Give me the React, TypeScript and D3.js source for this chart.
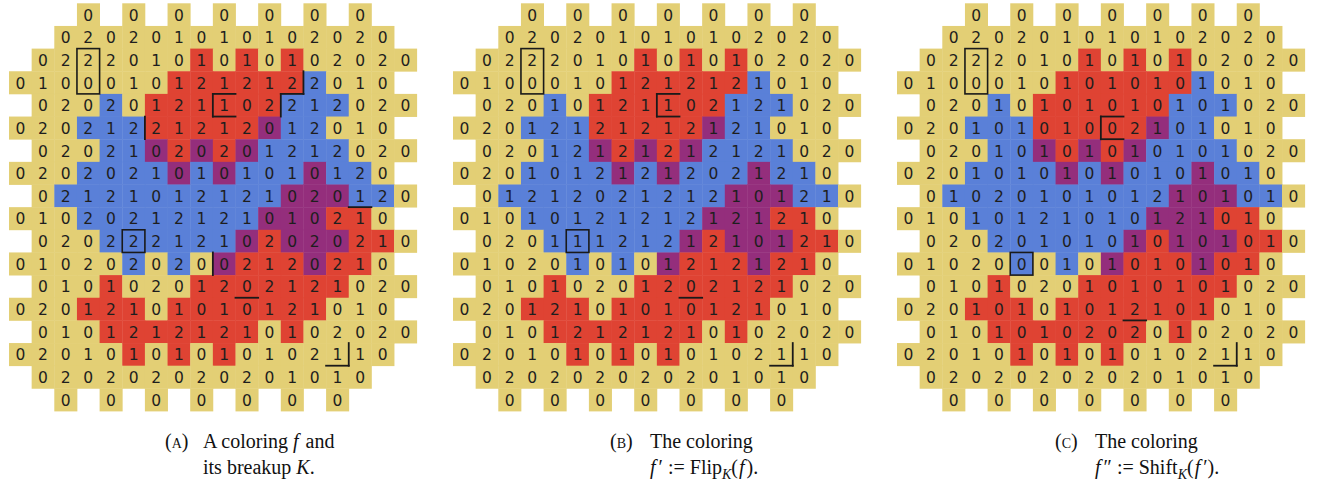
import React from "react";
import * as d3 from "d3";

// first column of each row (rows 0 and 17 only use every other cell)
const rowStart = [3, 2, 1, 0, 1, 0, 1, 0, 1, 0, 1, 0, 1, 0, 1, 0, 1, 2];

// cell colours, same in all three panels (Y yellow, R red, B blue, P purple)
const colorRows = [
  "Y Y Y Y Y Y Y",
  "YYYYYYYYYYYYYYY",
  "YYYYYYYRYRYRYYYYY",
  "YYYYYYYRRRRRRBYYY",
  "YYYBYRRRRRRBBBYYY",
  "YYYBBBRRRRRPBBYYY",
  "YYYBBPRPRPBBBBYYY",
  "YYYBBBBPBPBBBPBBY",
  "YBBBBBBBBBBPPPBBY",
  "YYYBBBBBBBBPPPRRY",
  "YYYBBBBBBPRPPPRRY",
  "YYYYYBYBYPRRRPRRY",
  "YYYRYYYRRRRRRRYYY",
  "YYYRRRYRRRRRRRYYY",
  "YYYRRRRRRRYRYYYYY",
  "YYYYYRYRYRYYYYYYY",
  "YYYYYYYYYYYYYYY",
  "Y Y Y Y Y Y Y",
];

const valuesA = [
  "0 0 0 0 0 0 0",
  "020201010102020",
  "02220101010102020",
  "01000101212122010",
  "02020121102212020",
  "02021221212012010",
  "02021020201212020",
  "02020210101010120",
  "02121012121020120",
  "01020212121010210",
  "02022212102020210",
  "01020202002120210",
  "01010201202121020",
  "02012101010121010",
  "01012121210102020",
  "02010101010102110",
  "020202020201010",
  "0 0 0 0 0 0 0",
];

const valuesB = [
  "0 0 0 0 0 0 0",
  "020201010102020",
  "02220101010102020",
  "01000101212121010",
  "02010121102121020",
  "02012121212121010",
  "02012121212121020",
  "02010121212021210",
  "01212021212101210",
  "01010121212121210",
  "02011121212101210",
  "01020101012121210",
  "01010201202121020",
  "02012101010121010",
  "01012121210102020",
  "02010101010102110",
  "020202020201010",
  "0 0 0 0 0 0 0",
];

const valuesC = [
  "0 0 0 0 0 0 0",
  "020201010102020",
  "02220101010102020",
  "01000101010101010",
  "02010101010101020",
  "02010101002101010",
  "02010101010101020",
  "02010101010101010",
  "01020101012101010",
  "01010121010121010",
  "02020101010101010",
  "01020001010101010",
  "01010201010101020",
  "02010101012101010",
  "01010102020102020",
  "02010101010102110",
  "020202020201010",
  "0 0 0 0 0 0 0",
];

const boxesA = [{ r: 2, c: 3, h: 2, w: 1 }, { r: 10, c: 5, h: 1, w: 1 }];
const boxesB = [{ r: 2, c: 3, h: 2, w: 1 }, { r: 10, c: 5, h: 1, w: 1 }];
const boxesC = [{ r: 2, c: 3, h: 2, w: 1 }, { r: 11, c: 5, h: 1, w: 1 }];

// single cell edges: [row, col, side]
const edgesA: [number, number, string][] = [
  [4, 9, "t"], [4, 9, "l"], [4, 9, "b"],
  [3, 12, "r"], [3, 12, "b"], [4, 12, "l"],
  [5, 6, "l"], [8, 15, "b"], [11, 9, "l"], [12, 10, "b"],
  [15, 14, "b"], [15, 14, "r"],
];
const edgesB: [number, number, string][] = [
  [4, 9, "t"], [4, 9, "l"], [4, 9, "b"],
  [12, 10, "b"], [15, 14, "b"], [15, 14, "r"],
];
const edgesC: [number, number, string][] = [
  [5, 9, "t"], [5, 9, "l"], [5, 9, "b"],
  [13, 10, "b"], [15, 14, "b"], [15, 14, "r"],
];

const palette: Record<string, string> = {
  Y: "#e3cf75",
  R: "#df4333",
  B: "#5a80d8",
  P: "#942e7c",
};

const CELL = 22.65;
const TOP = 3.3;
const panelX = [9, 453, 897];

const Panel = ({ x0, values, boxes, edges }: any) => {
  const x = d3.scaleBand<number>().domain(d3.range(19)).range([x0, x0 + 19 * CELL]);
  const y = d3.scaleBand<number>().domain(d3.range(18)).range([TOP, TOP + 18 * CELL]);
  const bw = x.bandwidth();
  const bh = y.bandwidth();

  const cells: any[] = [];
  values.forEach((row: string, r: number) => {
    row.split("").forEach((ch, i) => {
      if (ch === " ") return;
      cells.push({ r, c: rowStart[r] + i, v: ch, fill: palette[colorRows[r][i]] });
    });
  });

  const seg = ([r, c, s]: [number, number, string]) => {
    const x1 = x(c)!, y1 = y(r)!;
    if (s === "t") return [x1, y1, x1 + bw, y1];
    if (s === "b") return [x1, y1 + bh, x1 + bw, y1 + bh];
    if (s === "l") return [x1, y1, x1, y1 + bh];
    return [x1 + bw, y1, x1 + bw, y1 + bh];
  };

  return (
    <g>
      {cells.map((d, i) => (
        <rect key={"c" + i} x={x(d.c)} y={y(d.r)} width={bw + 0.4} height={bh + 0.4} fill={d.fill} />
      ))}
      {cells.map((d, i) => (
        <text
          key={"t" + i}
          x={x(d.c)! + bw / 2}
          y={y(d.r)! + bh / 2 + 1}
          textAnchor="middle"
          dominantBaseline="central"
          fontFamily="DejaVu Sans"
          fontSize={15.5}
          fill="#1e1e1e"
        >
          {d.v}
        </text>
      ))}
      {boxes.map((b: any, i: number) => (
        <rect key={"b" + i} x={x(b.c)} y={y(b.r)} width={bw * b.w} height={bh * b.h} fill="none" stroke="#1a1a1a" strokeWidth={1.6} />
      ))}
      {edges.map((e: any, i: number) => {
        const [a, b, c, d] = seg(e);
        return <line key={"e" + i} x1={a} y1={b} x2={c} y2={d} stroke="#1a1a1a" strokeWidth={1.8} strokeLinecap="square" />;
      })}
    </g>
  );
};

const serif = "Liberation Serif";

export default function App() {
  const fs = 20;
  return (
    <svg width={1322} height={496} style={{ position: "absolute", left: 0, top: 0, background: "#fff" }}>
      <Panel x0={panelX[0]} values={valuesA} boxes={boxesA} edges={edgesA} />
      <Panel x0={panelX[1]} values={valuesB} boxes={boxesB} edges={edgesB} />
      <Panel x0={panelX[2]} values={valuesC} boxes={boxesC} edges={edgesC} />

      <g fontFamily={serif} fontSize={fs} fill="#111">
        {/* (A) */}
        <text x={165} y={448}>(<tspan fontVariant="small-caps">a</tspan>)</text>
        <text x={203} y={448}>
          A coloring <tspan fontStyle="italic">f</tspan>
          <tspan dx={2}>{" and"}</tspan>
        </text>
        <text x={203} y={474}>its breakup <tspan fontStyle="italic">K</tspan>.</text>

        {/* (B) */}
        <text x={610} y={448}>(<tspan fontVariant="small-caps">b</tspan>)</text>
        <text x={650} y={448}>The coloring</text>
        <text x={650} y={474}>
          <tspan fontStyle="italic">f</tspan>
          <tspan dx={3}>′ := Flip</tspan>
          <tspan fontStyle="italic" fontSize={14} dy={5}>K</tspan>
          <tspan dy={-5}>(</tspan>
          <tspan fontStyle="italic" dx={1}>f</tspan>
          <tspan dx={2}>).</tspan>
        </text>

        {/* (C) */}
        <text x={1055} y={448}>(<tspan fontVariant="small-caps">c</tspan>)</text>
        <text x={1095} y={448}>The coloring</text>
        <text x={1095} y={474}>
          <tspan fontStyle="italic">f</tspan>
          <tspan dx={3}>″ := Shift</tspan>
          <tspan fontStyle="italic" fontSize={14} dy={5}>K</tspan>
          <tspan dy={-5}>(</tspan>
          <tspan fontStyle="italic" dx={1}>f</tspan>
          <tspan dx={3}>′).</tspan>
        </text>
      </g>
    </svg>
  );
}
